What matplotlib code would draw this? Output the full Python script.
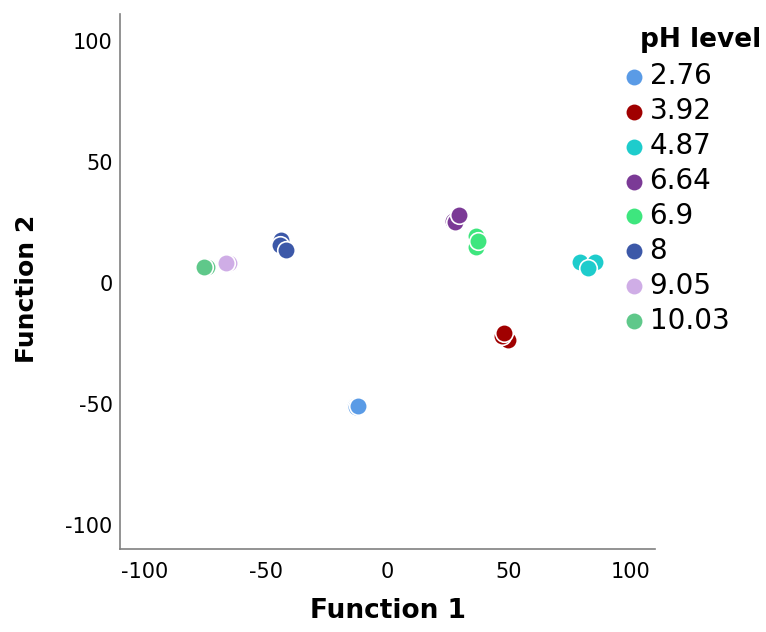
import matplotlib.pyplot as plt

plt.rcParams['font.family'] = ['DejaVu Sans']
plt.rcParams['axes.unicode_minus'] = False

# pH groups, colours and discriminant scores (3 replicates each)
levels = ['2.76', '3.92', '4.87', '6.64', '6.9', '8', '9.05', '10.03']
colors = ['#5a9be6', '#a00000', '#1ecccc', '#7b3a96', '#3ee67e', '#3c58a8', '#cfade6', '#5fc88a']
f1 = [[-13.4, -12.8, -12.0],
      [49.6, 46.9, 47.9],
      [79.3, 85.5, 82.6],
      [27.0, 27.7, 29.3],
      [36.4, 36.4, 37.2],
      [-43.8, -44.2, -41.7],
      [-64.9, -65.3, -66.5],
      [-74.0, -74.4, -75.6]]
f2 = [[-51.0, -51.2, -51.0],
      [-23.6, -22.0, -20.7],
      [8.7, 8.7, 6.2],
      [25.5, 25.2, 28.0],
      [19.4, 14.9, 17.4],
      [17.8, 15.7, 13.6],
      [8.0, 8.0, 8.0],
      [6.6, 6.6, 6.6]]

fig = plt.figure(figsize=(7.66, 6.32), dpi=100)
ax = fig.add_axes([0.157, 0.131, 0.698, 0.847])

for lab, c, xs, ys in zip(levels, colors, f1, f2):
    ax.scatter(xs, ys, s=160, color=c, edgecolors='white', linewidths=1.2,
               label=lab, zorder=3)

ax.set_xlim(-110, 110)
ax.set_ylim(-110, 111)
ax.set_xticks([-100, -50, 0, 50, 100])
ax.set_yticks([-100, -50, 0, 50, 100])
ax.tick_params(length=0, labelsize=15)
ax.tick_params(axis='x', pad=9)
ax.tick_params(axis='y', pad=5.5)
for s in ['top', 'right']:
    ax.spines[s].set_visible(False)
for s in ['left', 'bottom']:
    ax.spines[s].set_color('#808080')
    ax.spines[s].set_linewidth(1.2)

ax.set_xlabel('Function 1', fontsize=19, fontweight='bold', labelpad=12)
ax.set_ylabel('Function 2', fontsize=18, fontweight='bold')
ax.yaxis.set_label_coords(-0.152, 0.486)

# leyenda sin marco, el título va aparte para alinearlo como en la original
fig.text(640 / 766, 1 - 40 / 632, 'pH level', fontsize=19, fontweight='bold', va='center')
leg = fig.legend(loc='upper left', bbox_to_anchor=(626 / 766, 1 - 62 / 632),
                 frameon=False, fontsize=20, handlelength=0.6, handletextpad=0.25,
                 labelspacing=0.25, borderpad=0.0, borderaxespad=0.0)

fig.savefig('out.png', dpi=100)
